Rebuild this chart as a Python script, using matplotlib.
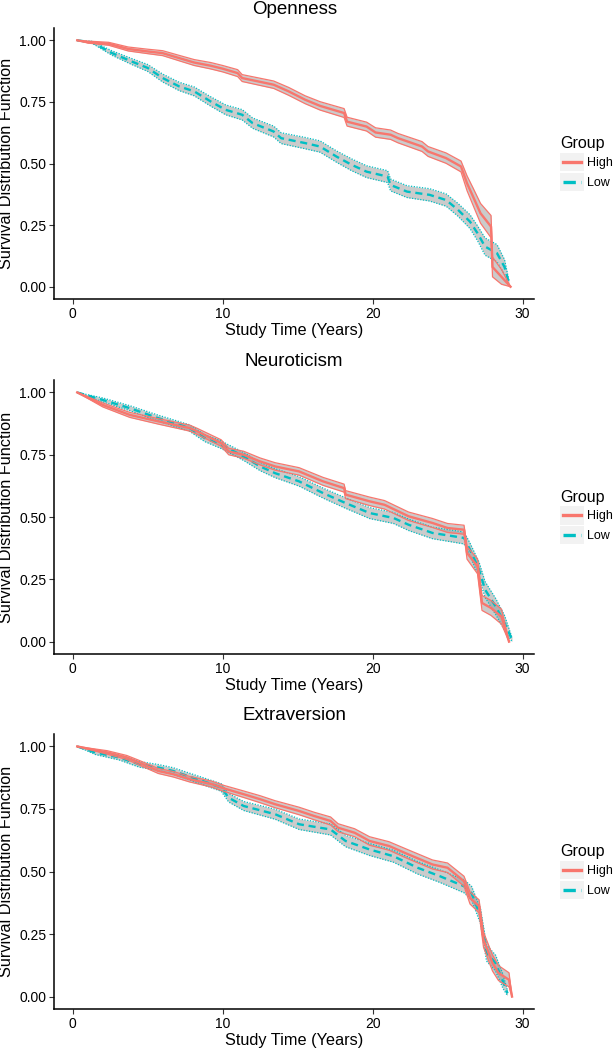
import matplotlib.pyplot as plt
from matplotlib.patches import Rectangle
from matplotlib.lines import Line2D

plt.rcParams['font.family'] = ['Liberation Sans', 'DejaVu Sans']

RED = '#F8766D'
TEAL = '#00BFC4'

# ---- Openness ----
open_hi_t = [0.3, 1.0, 2.4, 3.7, 5.0, 6.0, 7.1, 8.1, 9.2, 10.0, 11.0, 11.3, 13.4, 14.4, 15.5, 16.5,
             18.1, 18.3, 19.6, 20.2, 21.2, 21.7, 23.3, 23.7, 24.9, 25.9, 26.3, 26.7, 27.2, 27.9,
             28.0, 28.6, 29.2]
open_hi_s = [1.000, 0.993, 0.986, 0.965, 0.955, 0.948, 0.928, 0.910, 0.897, 0.885, 0.867, 0.847,
             0.820, 0.793, 0.759, 0.734, 0.705, 0.670, 0.650, 0.626, 0.617, 0.603, 0.569, 0.549,
             0.522, 0.488, 0.420, 0.366, 0.298, 0.244, 0.080, 0.040, 0.000]
open_hi_lo = [1.000, 0.989, 0.980, 0.957, 0.946, 0.938, 0.917, 0.898, 0.884, 0.872, 0.853, 0.833,
              0.805, 0.777, 0.743, 0.717, 0.687, 0.652, 0.632, 0.607, 0.598, 0.584, 0.549, 0.529,
              0.501, 0.466, 0.390, 0.331, 0.258, 0.199, 0.040, 0.010, 0.000]
open_hi_hi = [1.000, 0.997, 0.992, 0.973, 0.964, 0.958, 0.939, 0.922, 0.910, 0.898, 0.881, 0.861,
              0.835, 0.809, 0.775, 0.751, 0.723, 0.688, 0.668, 0.645, 0.636, 0.622, 0.589, 0.569,
              0.543, 0.510, 0.450, 0.401, 0.338, 0.289, 0.120, 0.070, 0.000]

open_lo_t = [0.3, 1.3, 2.6, 3.9, 5.0, 6.0, 7.1, 8.1, 9.2, 10.2, 11.3, 12.0, 13.4, 13.9, 15.5, 16.5,
             17.6, 18.6, 19.6, 21.0, 21.2, 22.3, 23.8, 24.9, 25.7, 26.5, 27.0, 27.5, 28.3, 28.8, 29.1]
open_lo_s = [1.000, 0.992, 0.949, 0.915, 0.888, 0.847, 0.813, 0.793, 0.752, 0.718, 0.698, 0.664,
             0.630, 0.603, 0.583, 0.569, 0.528, 0.495, 0.467, 0.447, 0.413, 0.386, 0.373, 0.352,
             0.312, 0.264, 0.217, 0.163, 0.136, 0.080, 0.014]
open_lo_lo = [1.000, 0.988, 0.940, 0.903, 0.874, 0.831, 0.796, 0.775, 0.733, 0.698, 0.677, 0.643,
              0.608, 0.581, 0.560, 0.546, 0.505, 0.471, 0.443, 0.423, 0.389, 0.362, 0.348, 0.327,
              0.286, 0.236, 0.187, 0.128, 0.101, 0.050, 0.004]
open_lo_hi = [1.000, 0.996, 0.958, 0.927, 0.902, 0.863, 0.830, 0.811, 0.771, 0.738, 0.719, 0.685,
              0.652, 0.625, 0.606, 0.592, 0.551, 0.519, 0.491, 0.471, 0.437, 0.410, 0.398, 0.377,
              0.338, 0.292, 0.247, 0.198, 0.171, 0.110, 0.024]

# ---- Neuroticism ----
neur_hi_t = [0.3, 2.0, 3.8, 5.7, 7.8, 8.3, 9.9, 10.4, 11.4, 12.5, 13.5, 15.1, 16.7, 18.1, 18.2,
             19.8, 20.8, 22.4, 24.0, 25.0, 26.1, 26.3, 27.0, 27.3, 27.9, 28.6, 29.1]
neur_hi_s = [1.000, 0.950, 0.910, 0.884, 0.857, 0.844, 0.797, 0.763, 0.750, 0.723, 0.703, 0.683,
             0.643, 0.616, 0.590, 0.563, 0.549, 0.503, 0.476, 0.456, 0.449, 0.356, 0.302, 0.155,
             0.135, 0.100, 0.000]
neur_hi_lo = [1.000, 0.942, 0.900, 0.873, 0.845, 0.832, 0.784, 0.750, 0.736, 0.709, 0.688, 0.668,
              0.627, 0.600, 0.574, 0.546, 0.532, 0.486, 0.458, 0.438, 0.431, 0.331, 0.272, 0.125,
              0.105, 0.070, 0.000]
neur_hi_hi = [1.000, 0.958, 0.920, 0.895, 0.869, 0.856, 0.810, 0.776, 0.764, 0.737, 0.718, 0.698,
              0.659, 0.632, 0.606, 0.580, 0.566, 0.520, 0.494, 0.474, 0.467, 0.381, 0.332, 0.185,
              0.165, 0.130, 0.000]

neur_lo_t = [0.3, 2.0, 3.8, 5.7, 7.8, 8.8, 9.9, 11.4, 12.5, 13.5, 15.1, 16.7, 18.2, 19.8, 21.4,
             22.4, 24.0, 26.1, 26.5, 27.1, 27.5, 28.2, 28.8, 29.3]
neur_lo_s = [1.000, 0.970, 0.937, 0.897, 0.857, 0.817, 0.790, 0.743, 0.703, 0.676, 0.643, 0.596,
             0.556, 0.516, 0.496, 0.469, 0.436, 0.416, 0.369, 0.289, 0.209, 0.142, 0.075, 0.008]
neur_lo_lo = [1.000, 0.962, 0.927, 0.885, 0.844, 0.803, 0.775, 0.727, 0.686, 0.658, 0.624, 0.576,
              0.535, 0.494, 0.474, 0.446, 0.413, 0.392, 0.343, 0.259, 0.177, 0.110, 0.045, 0.000]
neur_lo_hi = [1.000, 0.978, 0.947, 0.909, 0.870, 0.831, 0.805, 0.759, 0.720, 0.694, 0.662, 0.616,
              0.577, 0.538, 0.518, 0.492, 0.459, 0.440, 0.395, 0.319, 0.241, 0.174, 0.105, 0.016]

# ---- Extraversion ----
extr_hi_t = [0.3, 2.3, 3.6, 4.4, 5.7, 6.7, 7.8, 9.3, 10.1, 11.4, 12.5, 13.5, 15.1, 16.1, 17.2,
             17.7, 18.8, 19.8, 21.1, 22.4, 24.0, 25.0, 26.1, 26.5, 27.1, 27.4, 28.0, 28.4, 29.1, 29.3]
extr_hi_s = [1.000, 0.976, 0.956, 0.936, 0.902, 0.889, 0.869, 0.849, 0.832, 0.809, 0.789, 0.769,
             0.742, 0.722, 0.702, 0.675, 0.655, 0.622, 0.602, 0.568, 0.528, 0.515, 0.461, 0.394,
             0.361, 0.227, 0.134, 0.094, 0.067, 0.000]
extr_hi_lo = [1.000, 0.969, 0.948, 0.927, 0.892, 0.878, 0.858, 0.837, 0.820, 0.796, 0.775, 0.755,
              0.727, 0.707, 0.686, 0.659, 0.639, 0.605, 0.585, 0.550, 0.510, 0.496, 0.441, 0.370,
              0.335, 0.197, 0.102, 0.064, 0.039, 0.000]
extr_hi_hi = [1.000, 0.983, 0.964, 0.945, 0.912, 0.900, 0.880, 0.861, 0.844, 0.822, 0.803, 0.783,
              0.757, 0.737, 0.718, 0.691, 0.671, 0.639, 0.619, 0.586, 0.546, 0.534, 0.481, 0.418,
              0.387, 0.257, 0.166, 0.124, 0.095, 0.000]

extr_lo_t = [0.3, 1.5, 3.1, 4.4, 5.7, 6.7, 8.3, 9.9, 10.4, 11.4, 13.5, 15.1, 17.2, 18.2, 19.8,
             21.4, 23.0, 24.5, 26.1, 26.6, 27.2, 27.6, 28.2, 28.7, 29.0]
extr_lo_s = [1.000, 0.976, 0.956, 0.929, 0.916, 0.902, 0.869, 0.836, 0.795, 0.762, 0.729, 0.689,
             0.668, 0.622, 0.588, 0.561, 0.515, 0.481, 0.441, 0.414, 0.321, 0.174, 0.134, 0.060, 0.013]
extr_lo_lo = [1.000, 0.968, 0.946, 0.918, 0.904, 0.889, 0.855, 0.821, 0.778, 0.744, 0.709, 0.668,
              0.646, 0.599, 0.564, 0.537, 0.490, 0.456, 0.415, 0.387, 0.291, 0.142, 0.102, 0.032, 0.003]
extr_lo_hi = [1.000, 0.984, 0.966, 0.940, 0.928, 0.915, 0.883, 0.851, 0.812, 0.780, 0.749, 0.710,
              0.690, 0.645, 0.612, 0.585, 0.540, 0.506, 0.467, 0.441, 0.351, 0.206, 0.166, 0.088, 0.023]

panels = [
    ('Openness', (open_hi_t, open_hi_s, open_hi_lo, open_hi_hi), (open_lo_t, open_lo_s, open_lo_lo, open_lo_hi)),
    ('Neuroticism', (neur_hi_t, neur_hi_s, neur_hi_lo, neur_hi_hi), (neur_lo_t, neur_lo_s, neur_lo_lo, neur_lo_hi)),
    ('Extraversion', (extr_hi_t, extr_hi_s, extr_hi_lo, extr_hi_hi), (extr_lo_t, extr_lo_s, extr_lo_lo, extr_lo_hi)),
]

# axes boxes in figure fractions (left, bottom, width, height)
boxes = [(0.0878, 0.7152, 0.7813, 0.2581),
         (0.0878, 0.3771, 0.7813, 0.2610),
         (0.0878, 0.0390, 0.7813, 0.2620)]


class KeyHandler:
    # ggplot style key: grey square with a short line across the middle
    def legend_artist(self, legend, orig_handle, fontsize, handlebox):
        x0, y0 = -handlebox.xdescent, -handlebox.ydescent
        w, h = handlebox.width, handlebox.height
        tr = handlebox.get_transform()
        rect = Rectangle((x0, y0), w, h, facecolor='#F2F2F2', edgecolor='none', transform=tr)
        line = Line2D([x0 + 0.12 * w, x0 + 0.88 * w], [y0 + h / 2, y0 + h / 2],
                      color=orig_handle.get_color(), lw=2.4, ls=orig_handle.get_linestyle(),
                      transform=tr)
        handlebox.add_artist(rect)
        handlebox.add_artist(line)
        return rect


fig = plt.figure(figsize=(6.15, 10.5), dpi=100)

def draw_group(ax, data, color, main_ls, edge_ls):
    t, s, lo, hi = data
    ax.fill_between(t, lo, hi, color='#999999', alpha=0.5, lw=0)
    ax.plot(t, lo, color=color, lw=0.9, ls=edge_ls)
    ax.plot(t, hi, color=color, lw=0.9, ls=edge_ls)
    ax.plot(t, s, color=color, lw=1.7, ls=main_ls)

for (title, hi_data, lo_data), box in zip(panels, boxes):
    ax = fig.add_axes(box)
    draw_group(ax, lo_data, TEAL, (0, (3, 2)), (0, (1, 1.2)))
    draw_group(ax, hi_data, RED, '-', '-')

    ax.set_xlim(-1.25, 30.8)
    ax.set_ylim(-0.05, 1.05)
    ax.set_xticks([0, 10, 20, 30])
    ax.set_yticks([0, 0.25, 0.5, 0.75, 1.0])
    ax.set_yticklabels(['0.00', '0.25', '0.50', '0.75', '1.00'])
    for sp in ['top', 'right']:
        ax.spines[sp].set_visible(False)
    for sp in ['left', 'bottom']:
        ax.spines[sp].set_linewidth(1.1)
        ax.spines[sp].set_color('black')
    ax.tick_params(length=3.5, width=0.8, color='#333333', labelsize=10, labelcolor='black', pad=2)

    ax.set_title(title, fontsize=13.5, pad=10)
    ax.set_xlabel('Study Time (Years)', fontsize=11.7, labelpad=2)
    ax.set_ylabel('Survival Distribution Function', fontsize=11.7)
    ax.yaxis.set_label_coords(-0.083, 0.5)

    h_high = Line2D([], [], color=RED, ls='-')
    h_low = Line2D([], [], color=TEAL, ls=(0, (1.6, 1.2)))
    leg = ax.legend([h_high, h_low], ['High', 'Low'], title='Group',
                    handler_map={h_high: KeyHandler(), h_low: KeyHandler()},
                    loc='center left', bbox_to_anchor=(1.053, 0.5), frameon=False,
                    fontsize=9, title_fontsize=11.5, handlelength=1.9, handleheight=1.85,
                    labelspacing=0.15, handletextpad=0.25, borderpad=0, borderaxespad=0)
    leg._legend_box.align = 'left'

fig.savefig('out.png', dpi=100)
